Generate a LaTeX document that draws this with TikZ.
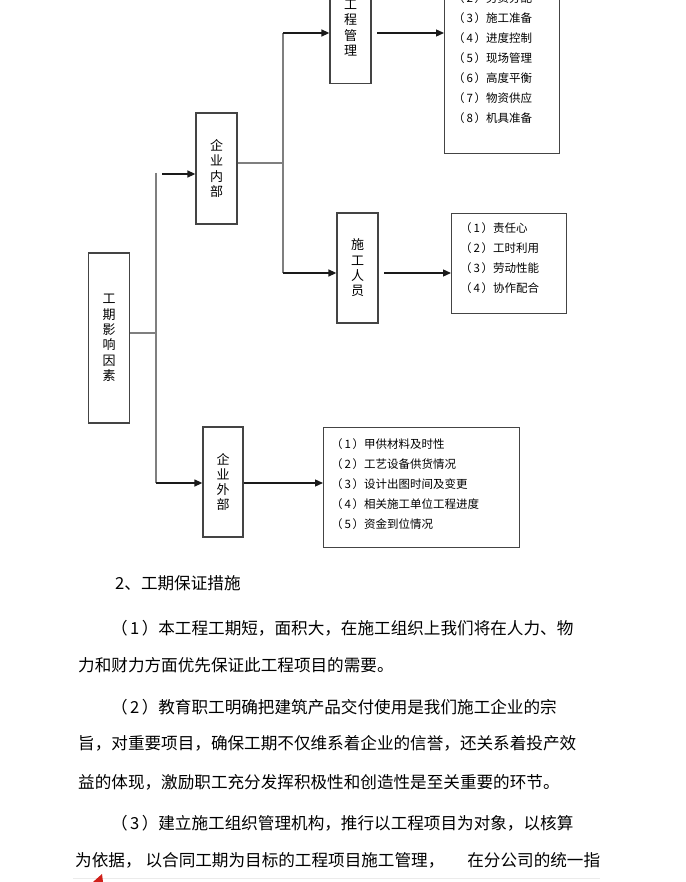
\documentclass[tikz,border=0pt]{standalone}
\usepackage{fontspec}
\setmainfont{Noto Sans CJK SC}
\usetikzlibrary{arrows.meta}
\definecolor{boxc}{HTML}{444444}
\definecolor{linec}{HTML}{7F7F7F}
\definecolor{arrc}{HTML}{1A1A1A}
\definecolor{markred}{HTML}{D0201A}
\definecolor{faint}{HTML}{EBEBEB}
\newcommand{\pnum}[2]{（\makebox[#1]{#2}）}
\begin{document}
\begin{tikzpicture}[x=1pt,y=-1pt,
  boxv/.style={draw=boxc, line width=1.3pt, minimum width=41pt, inner sep=0pt, align=center,
    font=\fontsize{13}{15.3}\selectfont},
  listbox/.style={draw=boxc, line width=1.3pt, inner sep=0pt, anchor=north west},
  item/.style={anchor=west, inner sep=0pt, font=\fontsize{11.5}{12}\selectfont},
  body/.style={anchor=west, inner sep=0pt, font=\fontsize{16.6}{18}\selectfont},
  conn/.style={draw=linec, line width=1.3pt},
  arr/.style={draw=arrc, line width=1.3pt, -{Triangle[length=8pt,width=7pt]}}]
\useasboundingbox (0,0) rectangle (685,882);
\clip (0,0) rectangle (685,882);
\fill[white] (0,0) rectangle (685,882);

% boxes
\node[boxv, minimum height=170pt] (A) at (109,338) {工\\期\\影\\响\\因\\素};
\node[boxv, minimum height=111pt] (B) at (216.5,168.5) {企\\业\\内\\部};
\node[boxv, minimum height=111pt] (C) at (350.5,28) {工\\程\\管\\理};
\node[boxv, minimum height=110pt] (D) at (357.5,268) {施\\工\\人\\员};
\node[boxv, minimum height=110pt, minimum width=40pt] (E) at (223,482) {企\\业\\外\\部};

\node[listbox, minimum width=115pt, minimum height=193pt] (L1) at (444,-40) {};
\node[listbox, minimum width=115pt, minimum height=100pt] (L2) at (451,213) {};
\node[listbox, minimum width=196pt, minimum height=120pt] (L3) at (323,427) {};

% list items
\node[item] (l1b) at (453,-2) {\pnum{10pt}{2}劳资分配};
\node[item] (l1c) at (453,18) {\pnum{10pt}{3}施工准备};
\node[item] (l1d) at (453,38) {\pnum{10pt}{4}进度控制};
\node[item] (l1e) at (453,58) {\pnum{10pt}{5}现场管理};
\node[item] (l1f) at (453,78) {\pnum{10pt}{6}高度平衡};
\node[item] (l1g) at (453,98) {\pnum{10pt}{7}物资供应};
\node[item] (l1h) at (453,118) {\pnum{10pt}{8}机具准备};

\node[item] (l2a) at (460,228) {\pnum{10pt}{1}责任心};
\node[item] (l2b) at (460,248) {\pnum{10pt}{2}工时利用};
\node[item] (l2c) at (460,268) {\pnum{10pt}{3}劳动性能};
\node[item] (l2d) at (460,288) {\pnum{10pt}{4}协作配合};

\node[item] (l3a) at (331,444) {\pnum{10pt}{1}甲供材料及时性};
\node[item] (l3b) at (331,464) {\pnum{10pt}{2}工艺设备供货情况};
\node[item] (l3c) at (331,484) {\pnum{10pt}{3}设计出图时间及变更};
\node[item] (l3d) at (331,504) {\pnum{10pt}{4}相关施工单位工程进度};
\node[item] (l3e) at (331,524) {\pnum{10pt}{5}资金到位情况};

% connectors
\coordinate (j0) at (156,333);
\coordinate (jt) at (156,173);
\coordinate (jb) at (156,483);
\coordinate (s1) at (162,174);
\draw[conn] (A.east |- j0) -- (j0);
\draw[conn] (jt) -- (jb);
\draw[arr] (jb) -- (jb -| E.west);
\draw[arr] (s1) -- (s1 -| B.west);

\coordinate (k0) at (283,163);
\coordinate (kt) at (283,33);
\coordinate (kb) at (283,273);
\draw[conn] (B.east |- k0) -- (k0);
\draw[conn] (kt) -- (kb);
\draw[arr] (kt) -- (kt -| C.west);
\draw[arr] (kb) -- (kb -| D.west);

\coordinate (c1) at (377,33);
\draw[arr] (c1) -- (c1 -| L1.west);
\coordinate (d1) at (384,273);
\draw[arr] (d1) -- (d1 -| L2.west);
\draw[arr] (E.east |- jb) -- (jb -| L3.west);

% body text
\node[body] (t0) at (115,583) {2、工期保证措施};
\node[body] (t1) at (111,628) {\pnum{14pt}{1}本工程工期短，面积大，在施工组织上我们将在人力、物};
\node[body] (t2) at (78,665) {力和财力方面优先保证此工程项目的需要。};
\node[body] (t3) at (111,707) {\pnum{14pt}{2}教育职工明确把建筑产品交付使用是我们施工企业的宗};
\node[body] (t4) at (78,743) {旨，对重要项目，确保工期不仅维系着企业的信誉，还关系着投产效};
\node[body] (t5) at (78,782) {益的体现，激励职工充分发挥积极性和创造性是至关重要的环节。};
\node[body] (t6) at (111,823) {\pnum{14pt}{3}建立施工组织管理机构，推行以工程项目为对象，以核算};
\node[body] (t7) at (75,860) {为依据，\hspace{4pt}以合同工期为目标的工程项目施工管理，\hspace{23pt}在分公司的统一指};

% bottom marks
\draw[faint, line width=0.8pt] (73,878.5) -- (600,878.5);
\fill[markred] (93,882) -- (102,874) -- (103,882) -- cycle;
\end{tikzpicture}
\end{document}
